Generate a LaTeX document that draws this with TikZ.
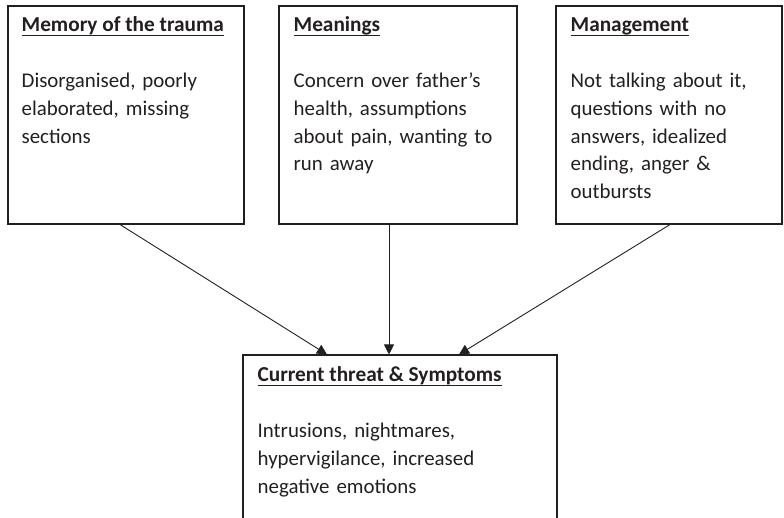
\documentclass[tikz,border=0pt]{standalone}
\usepackage{fontspec}
\setmainfont{Carlito}
\usetikzlibrary{arrows.meta,positioning,calc}
\definecolor{ink}{RGB}{35,31,32}

\newlength\hdlen
\newcommand{\hdline}[1]{\settowidth{\hdlen}{#1}\rlap{\rule[-4.5pt]{\hdlen}{1.4pt}}#1}

\tikzset{
    panel/.style={draw=ink,line width=1.1pt,inner sep=0pt},
    heading/.style={anchor=base west,inner sep=0pt,text=ink,font=\fontsize{21.3}{24}\selectfont\bfseries},
    body/.style={anchor=base west,inner sep=0pt,text=ink,text width=#1,align=left,font=\fontsize{20.9}{27.8}\selectfont},
    link/.style={draw=ink,line width=0.9pt,-{Triangle[width=10pt,length=10pt]}}
}

\begin{document}
\begin{tikzpicture}[x=1pt,y=-1pt]
    \useasboundingbox (0,0) rectangle (784,517);
    % Top row of boxes
    \node[panel,minimum width=236pt,minimum height=218pt] (mem) at (126,115) {};
    \node[panel,minimum width=238pt,minimum height=218pt] (mean) at (398,115) {};
    \node[panel,minimum width=226pt,minimum height=218pt] (mgmt) at (669,115) {};
    % Bottom box, runs off the page
    \node[panel,minimum width=314pt,minimum height=175pt] (cur) at (400,442.5) {};
    % Headings
    \node[heading] (memT) at ($(mem.north west)+(14,26)$) {\hdline{Memory of the trauma}};
    \node[heading] (meanT) at ($(mean.north west)+(15,26)$) {\hdline{Meanings}};
    \node[heading] (mgmtT) at ($(mgmt.north west)+(15,26)$) {\hdline{Management}};
    \node[heading] (curT) at ($(cur.north west)+(15,27)$) {\hdline{Current threat \& Symptoms}};
    % Texts
    \node[body=220pt] (memB) at ($(memT.base west)+(0,56)$) {Disorganised, poorly\\elaborated, missing\\sections};
    \node[body=220pt] (meanB) at ($(meanT.base west)+(0,56)$) {Concern over father’s\\health, assumptions\\about pain, wanting to\\run away};
    \node[body=210pt] (mgmtB) at ($(mgmtT.base west)+(0,56)$) {Not talking about it,\\questions with no\\answers, idealized\\ending, anger \&\\outbursts};
    \node[body=295pt] (curB) at ($(curT.base west)+(0,56)$) {Intrusions, nightmares,\\hypervigilance, increased\\negative emotions};
    % Arrows into the bottom box
    \draw[link] ([xshift=-6pt]mem.south) -- ([xshift=-73pt]cur.north);
    \draw[link] ([xshift=-9pt]mean.south) -- ([xshift=-11pt]cur.north);
    \draw[link] ([xshift=1pt]mgmt.south) -- ([xshift=59pt]cur.north);
\end{tikzpicture}
\end{document}
